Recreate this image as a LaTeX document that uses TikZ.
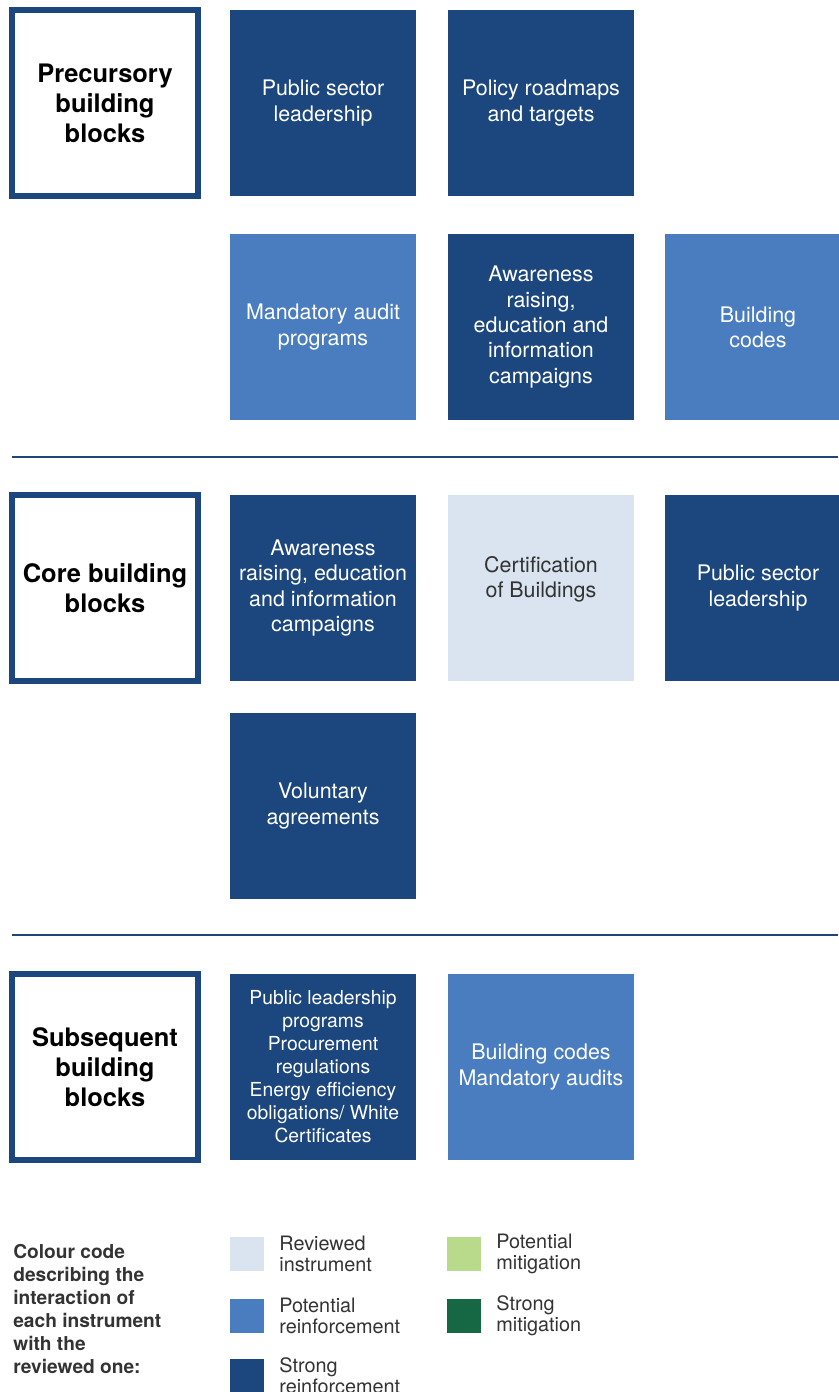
\documentclass[tikz,border=0pt]{standalone}
\usepackage{fontspec}
\setmainfont{TeX Gyre Heros}
\usepackage{xcolor}
\usepackage{tikz}
\usetikzlibrary{positioning}
\definecolor{strongrf}{HTML}{1B467E}
\definecolor{potrf}{HTML}{4A7DBF}
\definecolor{reviewed}{HTML}{DAE4F0}
\definecolor{potmit}{HTML}{B8DA8A}
\definecolor{strongmit}{HTML}{166844}
\definecolor{legtext}{HTML}{333333}

\begin{document}
\begin{tikzpicture}[x=0.02cm, y=-0.02cm,
 blk/.style={minimum size=3.72cm, inner sep=0pt, outer sep=0pt, align=center,
   text=white, font=\fontsize{12.2}{14.4}\selectfont},
 strong/.style={blk, fill=strongrf},
 potential/.style={blk, fill=potrf},
 review/.style={blk, fill=reviewed, text=legtext},
 stage/.style={draw=strongrf, line width=0.12cm, minimum size=3.72cm, inner sep=0pt,
   align=center, font=\fontsize{14.5}{17.1}\selectfont\bfseries},
 sep/.style={strongrf, line width=0.05cm},
 swatch/.style={minimum size=0.68cm, inner sep=0pt},
 legtxt/.style={anchor=west, align=left, inner sep=0pt, text=legtext,
   font=\fontsize{11.3}{12}\selectfont}]
\useasboundingbox (0,0) rectangle (838,1392);

% precursory
\node[stage](pre) at (105,103){Precursory\\building\\blocks};
\node[strong](p1) at (323,103){Public sector\\leadership};
\node[strong](p2) at (541,103){Policy roadmaps\\and targets};
\node[potential](p3) at (323,327){Mandatory audit\\programs};
\node[strong](p4) at (541,327){Awareness\\raising,\\education and\\information\\campaigns};
\node[potential](p5) at (758,327){Building\\codes};

\coordinate (s1a) at (12,457);
\coordinate (s1b) at (838,457);
\draw[sep](s1a)--(s1b);

% core
\node[stage](core) at (105,588){Core building\\blocks};
\node[strong](c1) at (323,588){Awareness\\raising, education\\and information\\campaigns};
\node[review](c2) at (541,588){Certification\\of Buildings\\[-1.8pt]};
\node[strong](c3) at (758,588){Public sector\\leadership};
\node[strong](c4) at (323,806){Voluntary\\agreements};

\coordinate (s2a) at (12,935);
\coordinate (s2b) at (838,935);
\draw[sep](s2a)--(s2b);

% subsequent
\node[stage](sub) at (105,1067){Subsequent\\building\\blocks};
\node[strong, font=\fontsize{11}{13.1}\selectfont](q1) at (323,1067){Public leadership\\programs\\Procurement\\regulations\\Energy efficiency\\obligations/ White\\Certificates};
\node[potential](q2) at (541,1067){Building codes\\Mandatory audits};

% legend
\node[anchor=west, align=left, inner sep=0pt, text=legtext,
  font=\fontsize{10.9}{13.1}\selectfont\bfseries](key) at (13,1309)
  {Colour code\\describing the\\interaction of\\each instrument\\with the\\reviewed one:};
\node[swatch, fill=reviewed](k1) at (247,1254){};
\node[swatch, fill=potrf](k2) at (247,1316){};
\node[swatch, fill=strongrf](k3) at (247,1376){};
\node[swatch, fill=potmit](k4) at (464,1254){};
\node[swatch, fill=strongmit](k5) at (464,1316){};
\node[legtxt](t1) at (279,1254){Reviewed\\instrument};
\node[legtxt](t2) at (279,1316){Potential\\reinforcement};
\node[legtxt](t3) at (279,1376){Strong\\reinforcement};
\node[legtxt](t4) at (496,1254){Potential\\mitigation};
\node[legtxt](t5) at (496,1316){Strong\\mitigation};

\end{tikzpicture}
\end{document}
